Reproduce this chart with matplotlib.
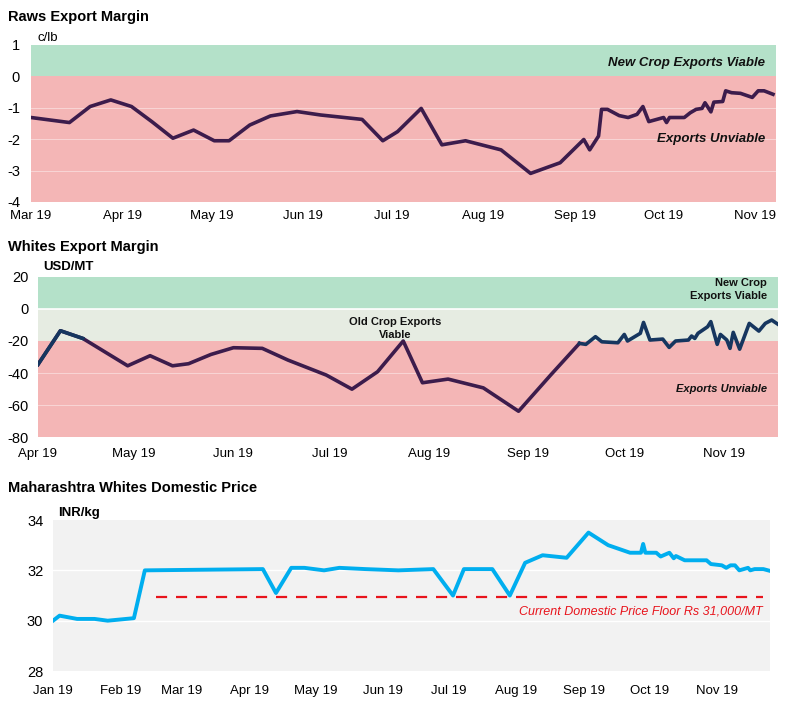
import matplotlib
matplotlib.use("Agg")
import matplotlib.pyplot as plt
import matplotlib.dates as mdates
import pandas as pd

plt.rcParams['font.family'] = ['Liberation Sans', 'DejaVu Sans']
plt.rcParams['axes.unicode_minus'] = False

# ---- Raws export margin (c/lb)
raws_dates = ["2019-03-01", "2019-03-14", "2019-03-21", "2019-03-28", "2019-04-04", "2019-04-11",
              "2019-04-18", "2019-04-25", "2019-05-02", "2019-05-07", "2019-05-14", "2019-05-21",
              "2019-05-30", "2019-06-07", "2019-06-21", "2019-06-28", "2019-07-03", "2019-07-11",
              "2019-07-18", "2019-07-26", "2019-08-07", "2019-08-17", "2019-08-27", "2019-09-04",
              "2019-09-06", "2019-09-09", "2019-09-10", "2019-09-12", "2019-09-16", "2019-09-19",
              "2019-09-22", "2019-09-24", "2019-09-26", "2019-10-01", "2019-10-02", "2019-10-03",
              "2019-10-08", "2019-10-10", "2019-10-12", "2019-10-14", "2019-10-15", "2019-10-17",
              "2019-10-18", "2019-10-21", "2019-10-22", "2019-10-24", "2019-10-27", "2019-10-31",
              "2019-11-02", "2019-11-04", "2019-11-07"]
raws_margin = [-1.31, -1.47, -0.96, -0.75, -0.96, -1.45,
               -1.97, -1.71, -2.05, -2.05, -1.55, -1.26,
               -1.12, -1.23, -1.37, -2.05, -1.76, -1.02,
               -2.18, -2.05, -2.34, -3.09, -2.75, -2.01,
               -2.34, -1.90, -1.05, -1.05, -1.25, -1.31,
               -1.21, -0.96, -1.44, -1.31, -1.47, -1.31,
               -1.31, -1.16, -1.05, -1.02, -0.84, -1.13,
               -0.82, -0.80, -0.46, -0.52, -0.54, -0.67,
               -0.46, -0.46, -0.57]

# ---- Whites export margin (USD/MT)
old_dates = ["2019-04-01", "2019-04-08", "2019-04-15", "2019-04-29", "2019-05-06", "2019-05-13",
             "2019-05-18", "2019-05-25", "2019-06-01", "2019-06-10", "2019-06-18", "2019-06-30",
             "2019-07-08", "2019-07-16", "2019-07-24", "2019-07-30", "2019-08-07", "2019-08-18",
             "2019-08-29", "2019-09-08", "2019-09-17"]
old_margin = [-34.7, -13.6, -18.4, -35.5, -29.2, -35.5,
              -34.2, -28.4, -24.2, -24.6, -31.9, -41.3,
              -50.1, -39.2, -20.0, -46.1, -43.8, -49.3,
              -63.9, -41.3, -21.5]
new_dates = ["2019-04-01", "2019-04-08", "2019-04-15",
             "2019-09-17", "2019-09-19", "2019-09-22", "2019-09-24", "2019-09-29", "2019-10-01",
             "2019-10-02", "2019-10-06", "2019-10-07", "2019-10-09", "2019-10-13", "2019-10-15",
             "2019-10-17", "2019-10-21", "2019-10-22", "2019-10-23", "2019-10-24", "2019-10-27",
             "2019-10-28", "2019-10-30", "2019-10-31", "2019-11-02", "2019-11-03", "2019-11-04",
             "2019-11-06", "2019-11-09", "2019-11-12", "2019-11-14", "2019-11-16", "2019-11-18"]
new_margin = [-34.7, -13.6, -18.4,
              -21.5, -22.1, -17.3, -20.5, -21.1, -15.9,
              -20.0, -15.2, -8.4, -19.4, -18.8, -24.0,
              -20.0, -19.4, -16.9, -18.4, -15.2, -11.1,
              -7.9, -22.1, -15.9, -19.4, -24.6, -14.6,
              -25.1, -9.0, -13.8, -9.0, -6.9, -9.6]

# ---- Maharashtra domestic price (INR/kg)
dom_dates = ["2019-01-01", "2019-01-04", "2019-01-12", "2019-01-20", "2019-01-26", "2019-02-07",
             "2019-02-12", "2019-04-07", "2019-04-13", "2019-04-20", "2019-04-26", "2019-05-05",
             "2019-05-12", "2019-05-24", "2019-06-08", "2019-06-24", "2019-07-03", "2019-07-08",
             "2019-07-21", "2019-07-29", "2019-08-05", "2019-08-13", "2019-08-24", "2019-09-03",
             "2019-09-12", "2019-09-22", "2019-09-27", "2019-09-28", "2019-09-29", "2019-10-04",
             "2019-10-06", "2019-10-10", "2019-10-12", "2019-10-13", "2019-10-17", "2019-10-27",
             "2019-10-29", "2019-11-03", "2019-11-05", "2019-11-07", "2019-11-09", "2019-11-11",
             "2019-11-15", "2019-11-16", "2019-11-18", "2019-11-22", "2019-11-25"]
dom_price = [30.0, 30.2, 30.07, 30.07, 30.0, 30.1,
             32.0, 32.05, 31.1, 32.1, 32.1, 32.0,
             32.1, 32.05, 32.0, 32.05, 31.0, 32.05,
             32.05, 31.0, 32.3, 32.6, 32.5, 33.5,
             33.0, 32.7, 32.7, 33.05, 32.7, 32.7,
             32.55, 32.7, 32.48, 32.57, 32.4, 32.4,
             32.25, 32.2, 32.1, 32.2, 32.2, 32.0,
             32.1, 32.0, 32.05, 32.05, 31.98]
floor_dates = ["2019-02-17", "2019-11-22"]
floor_price = [30.93, 30.93]

GREEN = '#b4e1c9'
RED = '#f4b6b6'
PALE = '#e6ece2'
PURPLE = '#3c1c4c'
NAVY = '#16365f'
BLUE = '#00aeef'
FLOOR = '#e8141c'

d = lambda s: pd.to_datetime(s)

fig = plt.figure(figsize=(8.01, 7.15), dpi=100)


def style_axis(ax, start, end, months, ypad, xpad):
    ax.set_xlim(d(start), d(end))
    ax.set_xticks(pd.to_datetime(months))
    ax.xaxis.set_major_formatter(mdates.DateFormatter('%b %y'))
    for s in ax.spines.values():
        s.set_visible(False)
    ax.tick_params(axis='x', length=0, labelsize=9.5, pad=xpad)
    ax.tick_params(axis='y', length=0, labelsize=10.5, pad=ypad)


# Panel 1
ax1 = fig.add_axes([0.0387, 0.7175, 0.930, 0.2196])
ax1.axhspan(0, 1, color=GREEN, lw=0)
ax1.axhspan(-4, 0, color=RED, lw=0)
for g in [-1, -2, -3]:
    ax1.axhline(g, color='white', lw=0.6, alpha=0.5)
ax1.plot(d(raws_dates), raws_margin, color=PURPLE, lw=2.6, solid_joinstyle='round')
ax1.set_ylim(-4, 1)
ax1.set_yticks([1, 0, -1, -2, -3, -4])
style_axis(ax1, "2019-03-01", "2019-11-08",
           ["2019-%02d-01" % m for m in range(3, 12)], 8, 6)
ax1.text(0.986, 0.885, 'New Crop Exports Viable', transform=ax1.transAxes, ha='right', va='center',
         fontsize=9.5, fontweight='bold', style='italic', color='#111111')
ax1.text(0.986, 0.40, 'Exports Unviable', transform=ax1.transAxes, ha='right', va='center',
         fontsize=9.5, fontweight='bold', style='italic', color='#111111')
fig.text(8 / 801, 1 - 17 / 715, 'Raws Export Margin', fontsize=10.5, fontweight='bold', va='center')
fig.text(38 / 801, 1 - 38 / 715, 'c/lb', fontsize=9.5, va='center')

# Panel 2
ax2 = fig.add_axes([0.0474, 0.3888, 0.924, 0.2238])
ax2.axhspan(0, 20, color=GREEN, lw=0)
ax2.axhspan(-20, 0, color=PALE, lw=0)
ax2.axhspan(-80, -20, color=RED, lw=0)
for g in [-40, -60]:
    ax2.axhline(g, color='white', lw=0.6, alpha=0.5)
ax2.axhline(0, color='white', lw=1.2)
ax2.plot(d(old_dates), old_margin, color=PURPLE, lw=2.6, solid_joinstyle='round')
ax2.plot(d(new_dates[:3]), new_margin[:3], color=NAVY, lw=2.6, solid_joinstyle='round')
ax2.plot(d(new_dates[3:]), new_margin[3:], color=NAVY, lw=2.6, solid_joinstyle='round')
ax2.set_ylim(-80, 20)
ax2.set_yticks([20, 0, -20, -40, -60, -80])
style_axis(ax2, "2019-04-01", "2019-11-18",
           ["2019-%02d-01" % m for m in range(4, 12)], 7, 8)
ax2.text(0.985, 0.92, 'New Crop\nExports Viable', transform=ax2.transAxes, ha='right', va='center',
         fontsize=8, fontweight='bold', linespacing=1.4, color='#111111')
ax2.text(0.483, 0.68, 'Old Crop Exports\nViable', transform=ax2.transAxes, ha='center', va='center',
         fontsize=8, fontweight='bold', linespacing=1.4, color='#111111')
ax2.text(0.985, 0.30, 'Exports Unviable', transform=ax2.transAxes, ha='right', va='center',
         fontsize=8, fontweight='bold', style='italic', color='#111111')
fig.text(8 / 801, 1 - 247 / 715, 'Whites Export Margin', fontsize=10.5, fontweight='bold', va='center')
fig.text(43 / 801, 1 - 267 / 715, 'USD/MT', fontsize=9.5, fontweight='bold', va='center')

# Panel 3
ax3 = fig.add_axes([0.0662, 0.0615, 0.895, 0.2112])
ax3.set_facecolor('#f2f2f2')
for g in [30, 32]:
    ax3.axhline(g, color='white', lw=1.0)
ax3.plot(d(floor_dates), floor_price, color=FLOOR, lw=1.6, ls=(0, (5, 4)))
ax3.plot(d(dom_dates), dom_price, color=BLUE, lw=2.8, solid_joinstyle='round')
ax3.set_ylim(28, 34)
ax3.set_yticks([34, 32, 30, 28])
style_axis(ax3, "2019-01-01", "2019-11-25",
           ["2019-%02d-01" % m for m in range(1, 12)], 7, 10)
ax3.text(0.99, 0.395, 'Current Domestic Price Floor Rs 31,000/MT', transform=ax3.transAxes,
         ha='right', va='center', fontsize=9, style='italic', color=FLOOR)
fig.text(8 / 801, 1 - 488 / 715, 'Maharashtra Whites Domestic Price', fontsize=10.5,
         fontweight='bold', va='center')
fig.text(58 / 801, 1 - 513 / 715, 'INR/kg', fontsize=9.5, fontweight='bold', va='center')

fig.savefig('out.png', dpi=100)
